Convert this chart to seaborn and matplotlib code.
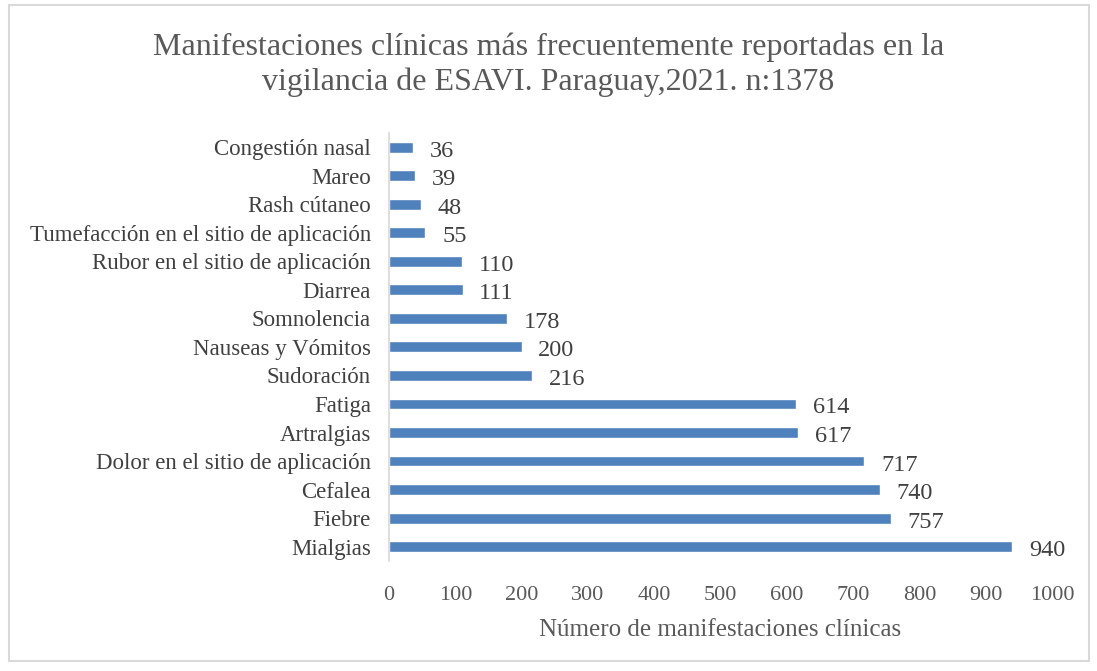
import numpy as np
import pandas as pd
import matplotlib
matplotlib.use("Agg")
import matplotlib.pyplot as plt
import seaborn as sns

sintomas = ["Congestión nasal", "Mareo", "Rash cútaneo",
            "Tumefacción en el sitio de aplicación", "Rubor en el sitio de aplicación",
            "Diarrea", "Somnolencia", "Nauseas y Vómitos", "Sudoración", "Fatiga",
            "Artralgias", "Dolor en el sitio de aplicación", "Cefalea", "Fiebre", "Mialgias"]
casos = [36, 39, 48, 55, 110, 111, 178, 200, 216, 614, 617, 717, 740, 757, 940]
ticks_x = [0, 100, 200, 300, 400, 500, 600, 700, 800, 900, 1000]

df = pd.DataFrame({"sintoma": sintomas, "casos": casos})

sns.set_theme(style="white")
plt.rcParams["font.family"] = ["Liberation Serif", "DejaVu Serif"]
gris = "#595959"

fig = plt.figure(figsize=(10.97, 6.71), dpi=100)
ax = fig.add_axes([0.3546, 0.164, 0.6044, 0.638])

sns.barplot(data=df, x="casos", y="sintoma", color="#4f81bd", width=0.38,
            saturation=1, ax=ax)

for i, v in enumerate(casos):
    ax.text(v + 25, i + 0.14, str(v), va="center", ha="left", fontsize=17.5, color="#404040")

ax.set_xlim(0, 1000)
ax.set_xticks(ticks_x)
ax.set_xticklabels([str(t) for t in ticks_x], fontsize=16, color=gris)
ax.tick_params(axis="x", length=0, pad=18)
ax.tick_params(axis="y", length=0, pad=13, labelsize=16.5, labelcolor="#404040")
ax.set_ylabel("")
ax.set_xlabel("Número de manifestaciones clínicas", fontsize=18, color=gris, labelpad=10)
for s in ["top", "right", "bottom"]:
    ax.spines[s].set_visible(False)
ax.spines["left"].set_color("#d9d9d9")

fig.text(0.5, 0.903, "Manifestaciones clínicas más frecuentemente reportadas en la\nvigilancia de ESAVI. Paraguay,2021. n:1378",
         ha="center", va="center", fontsize=23, color=gris, linespacing=1.25)

borde = plt.Rectangle((0.008, 0.015), 0.985, 0.978, transform=fig.transFigure,
                      fill=False, edgecolor="#d9d9d9", linewidth=1.5)
fig.patches.append(borde)

fig.savefig("out.png", dpi=100, facecolor="white")
